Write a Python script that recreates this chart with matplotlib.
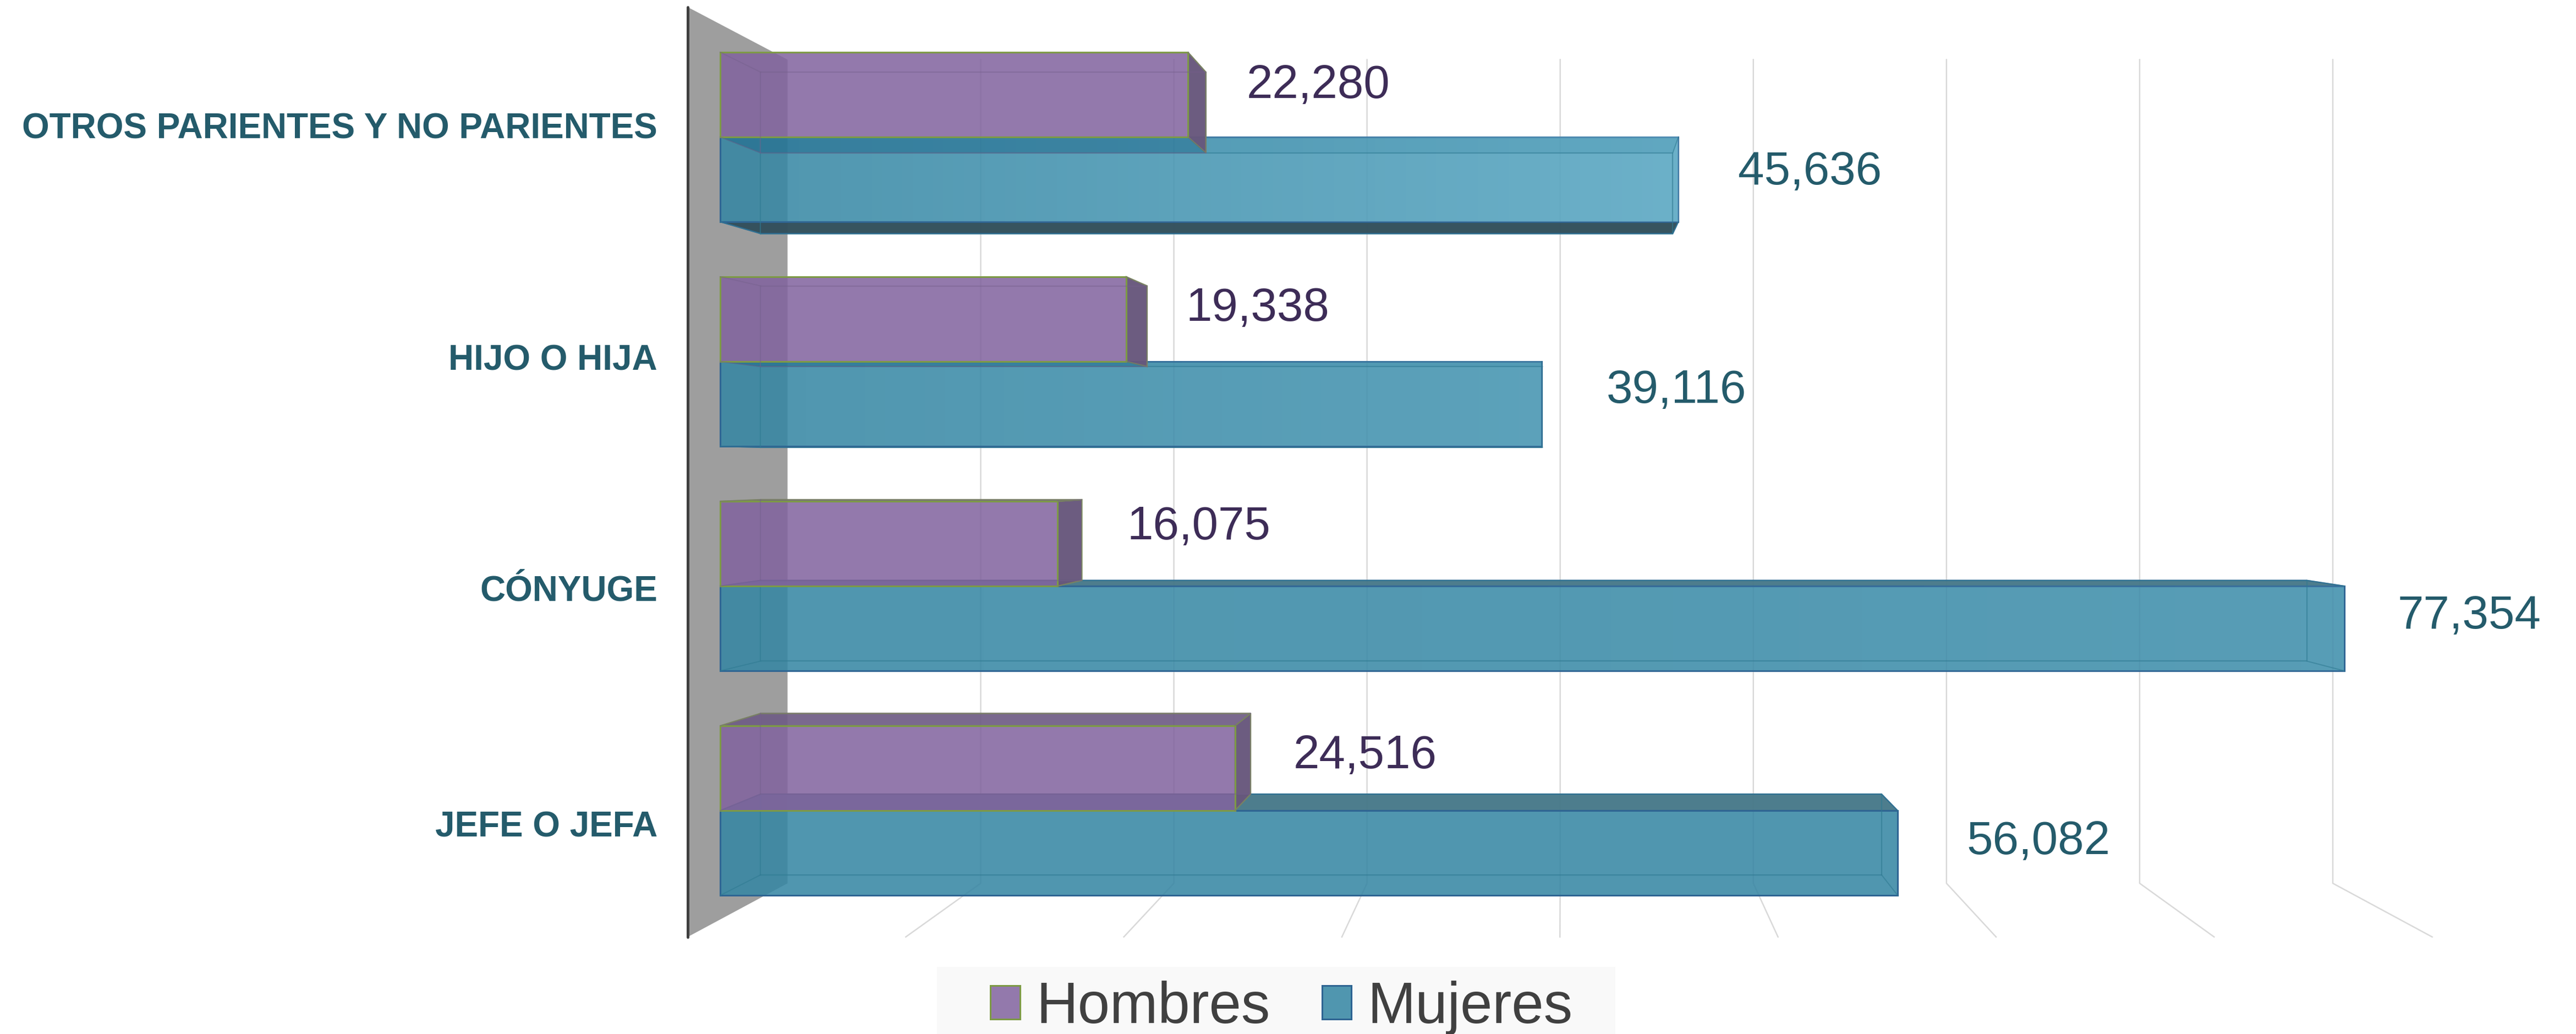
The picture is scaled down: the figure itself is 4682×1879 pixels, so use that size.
import numpy as np
import matplotlib
matplotlib.use("Agg")
import matplotlib.pyplot as plt
from matplotlib.patches import Patch, Rectangle

plt.rcParams['font.family'] = ['Liberation Sans', 'DejaVu Sans']

# data, bottom row first
categorias = ["JEFE O JEFA", "CÓNYUGE", "HIJO O HIJA", "OTROS PARIENTES Y NO PARIENTES"]
hombres = [24516, 16075, 19338, 22280]
mujeres = [56082, 77354, 39116, 45636]
grid_values = [10000, 20000, 30000, 40000, 50000, 60000, 70000, 80000]

# label offsets from the end of each bar, in pixels (the original placed them by hand)
off_hombres = [(106, 0), (126, 8), (109, -3), (107, -6)]
off_mujeres = [(125, -2), (97, 0), (118, 2), (109, -9)]
off_categorias = [-23, -18, -23, -26]

# perspective settings: vanishing point in data units, depth as scale factors
VX, VY = 40094, 1.529
S_FRONT, S_INNER, S_WALL, S_AXIS = 1.0, 0.952, 0.92, 1.0386
WALL_TOP, WALL_BOTTOM = 3.5025, -0.485
BAR_H = 0.3777

PURPLE = '#82649F'
TEAL = '#3686A3'
PURPLE_EDGE = '#7D9A45'
TEAL_EDGE = '#2F6593'
TEXT_TEAL = '#245B6B'
TEXT_PURPLE = '#3D2C57'


def project(v, y, s):
    return VX + (v - VX) * s, VY + (y - VY) * s


def face(pts, **kw):
    xs = [project(*p)[0] for p in pts]
    ys = [project(*p)[1] for p in pts]
    ax.fill(xs, ys, **kw)


def frame_lines(v, y0, y1, color, z, alpha=0.8):
    # inner rectangle of the box and its corner lines
    xi = [project(0, y0, S_INNER), project(v, y0, S_INNER), project(v, y1, S_INNER), project(0, y1, S_INNER), project(0, y0, S_INNER)]
    ax.plot([p[0] for p in xi], [p[1] for p in xi], color=color, lw=1.6, alpha=alpha, zorder=z)
    for vv, yy in [(0, y0), (v, y0), (v, y1), (0, y1)]:
        a = project(vv, yy, S_FRONT)
        b = project(vv, yy, S_INNER)
        ax.plot([a[0], b[0]], [a[1], b[1]], color=color, lw=1.4, alpha=alpha, zorder=z)


def highlight(v, y0, y1, rgb, amount, z):
    img = np.zeros((1, 64, 4))
    img[0, :, 0:3] = rgb
    img[0, :, 3] = np.linspace(0, amount, 64)
    ax.imshow(img, extent=[0, v, y0, y1], aspect='auto', zorder=z, interpolation='bilinear')


fig = plt.figure(figsize=(46.82, 18.79), dpi=100)
ax = fig.add_axes([0, 0, 1, 1])
ax.axis('off')

pos = np.arange(len(categorias))

# back wall
face([(0, WALL_TOP, S_AXIS), (0, WALL_TOP, S_WALL), (0, WALL_BOTTOM, S_WALL), (0, WALL_BOTTOM, S_AXIS)],
     color='#9E9E9E', lw=0, zorder=1)
a = project(0, WALL_TOP, S_AXIS)
b = project(0, WALL_BOTTOM, S_AXIS)
ax.plot([a[0], b[0]], [a[1], b[1]], color='#404040', lw=3.6, zorder=2, solid_capstyle='round')

# grid, up the wall and along the floor
for g in grid_values:
    p1 = project(g, WALL_TOP, S_WALL)
    p2 = project(g, WALL_BOTTOM, S_WALL)
    p3 = project(g, WALL_BOTTOM, S_AXIS)
    ax.plot([p1[0], p2[0], p3[0]], [p1[1], p2[1], p3[1]], color='#D9D9D9', lw=1.8, zorder=1.5)

# Mujeres
amounts = [0.0, 0.10, 0.16, 0.36]
for i, v in enumerate(mujeres):
    y0 = pos[i] - BAR_H
    y1 = pos[i]
    if y1 < VY:
        # top face seen from above
        face([(0, y1, S_FRONT), (v, y1, S_FRONT), (v, y1, S_INNER), (0, y1, S_INNER)],
             facecolor='#467888', edgecolor=TEAL_EDGE, lw=1.6, alpha=0.96, zorder=3)
    else:
        # bottom face seen from below
        face([(0, y0, S_FRONT), (v, y0, S_FRONT), (v, y0, S_INNER), (0, y0, S_INNER)],
             facecolor='#33505C', edgecolor=TEAL_EDGE, lw=1.6, alpha=0.98, zorder=3)
        face([(0, y1, S_FRONT), (v, y1, S_FRONT), (v, y1, S_INNER), (0, y1, S_INNER)],
             facecolor=TEAL, lw=0, alpha=0.2, zorder=3.6)
    ax.barh(y0 + BAR_H / 2, v, height=BAR_H, color=matplotlib.colors.to_rgba(TEAL, 0.87),
            edgecolor=TEAL_EDGE, linewidth=2.2, zorder=3.2)
    if amounts[i] > 0:
        highlight(v, y0, y1, (0.62, 0.88, 0.97), amounts[i], 3.3)
    frame_lines(v, y0, y1, '#2F7A92', 3.5, 0.6)

# Hombres
for i, v in enumerate(hombres):
    y0 = pos[i]
    y1 = pos[i] + BAR_H
    face([(v, y0, S_FRONT), (v, y1, S_FRONT), (v, y1, S_INNER), (v, y0, S_INNER)],
         facecolor='#67577C', edgecolor=PURPLE_EDGE, lw=1.6, alpha=0.97, zorder=4)
    if y1 < VY:
        face([(0, y1, S_FRONT), (v, y1, S_FRONT), (v, y1, S_INNER), (0, y1, S_INNER)],
             facecolor='#6F5C85', edgecolor=PURPLE_EDGE, lw=1.6, alpha=0.92, zorder=4)
    elif y0 > VY:
        face([(0, y0, S_FRONT), (v, y0, S_FRONT), (v, y0, S_INNER), (0, y0, S_INNER)],
             facecolor='#105A81', lw=0, alpha=0.36, zorder=4)
    ax.barh(y0 + BAR_H / 2, v, height=BAR_H, color=matplotlib.colors.to_rgba(PURPLE, 0.866),
            edgecolor=PURPLE_EDGE, linewidth=2.2, zorder=4.2)
    frame_lines(v, y0, y1, '#75608C', 4.3, 0.45)

# category labels, they sit on the front plane of the wall
for i, c in enumerate(categorias):
    p = project(0, pos[i], S_AXIS)
    ax.annotate(c, xy=p, xytext=(-55, off_categorias[i]), textcoords='offset pixels', ha='right', va='baseline',
                fontsize=46, fontweight='bold', color=TEXT_TEAL, zorder=6)

# value labels
for i in pos:
    ax.annotate(f"{hombres[i]:,}", xy=(hombres[i], pos[i] + BAR_H / 2), xytext=off_hombres[i],
                textcoords='offset pixels', ha='left', va='baseline', fontsize=61.5, color=TEXT_PURPLE, zorder=6)
    ax.annotate(f"{mujeres[i]:,}", xy=(mujeres[i], pos[i] - BAR_H / 2), xytext=off_mujeres[i],
                textcoords='offset pixels', ha='left', va='baseline', fontsize=61.5, color=TEXT_TEAL, zorder=6)

# legend with its pale box behind
fig.add_artist(Rectangle((1703 / 4682, 0), (2936 - 1703) / 4682, (1879 - 1757) / 1879,
                         transform=fig.transFigure, facecolor='#F9F9F9', edgecolor='none', zorder=-1))
handles = [Patch(facecolor='#9379AC', edgecolor=PURPLE_EDGE, linewidth=2.2, label='Hombres'),
           Patch(facecolor='#5096AF', edgecolor=TEAL_EDGE, linewidth=2.2, label='Mujeres')]
leg = ax.legend(handles=handles, loc='lower left', bbox_to_anchor=(1790 / 4682, -12 / 1879), bbox_transform=fig.transFigure,
                ncol=2, frameon=False, fontsize=75.5, handlelength=0.51, handleheight=0.52, handletextpad=0.28,
                columnspacing=0.90, labelcolor='#404040', borderpad=0.1, borderaxespad=0)
leg.set_zorder(7)

ax.set_xlim(-1309 / 0.03816, (4682 - 1309) / 0.03816)
ax.set_ylim((1473 - 1879) / 408, 1473 / 408)

fig.savefig("out.png", dpi=100, facecolor='white')
